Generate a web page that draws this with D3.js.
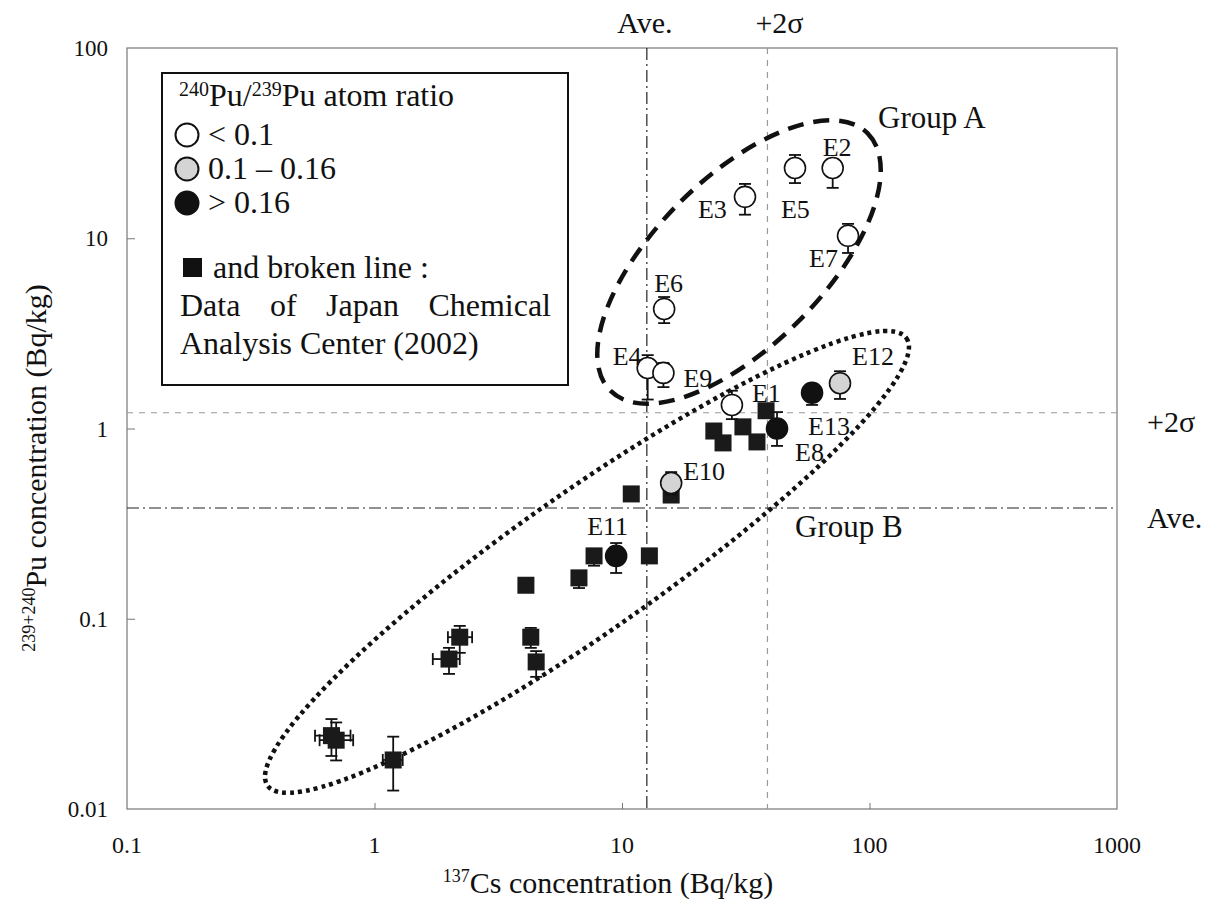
<!DOCTYPE html>
<html>
<head>
<meta charset="utf-8">
<script src="https://cdn.jsdelivr.net/npm/d3@7"></script>
<style>
  body { margin: 0; background: #fff; }
  svg, text { font-family: "Liberation Serif", "Times New Roman", serif; }
  text { fill: #111; }
</style>
</head>
<body>
<svg id="chart" width="1211" height="901"></svg>
<script>
// samples E1..E13 (circles, with Pu error bars)
const samples    = ['E1','E2','E3','E4','E5','E6','E7','E8','E9','E10','E11','E12','E13'];
const sampleCs   = [27.8, 71, 31.4, 12.7, 50, 14.8, 81.9, 42.3, 14.7, 15.8, 9.47, 76, 58.6];
const samplePu   = [1.33, 23.4, 16.5, 2.08, 23.4, 4.25, 10.3, 1.0, 1.96, 0.517, 0.214, 1.73, 1.54];
const samplePuLo = [1.12, 18.4, 13.3, 1.42, 19.5, 3.58, 8.37, 0.81, 1.65, 0.45, 0.174, 1.43, 1.33];
const samplePuHi = [1.58, 26.1, 19.3, 2.43, 27.4, 4.91, 11.9, 1.22, 2.21, 0.59, 0.25, 2.0, 1.69];
const sampleRatio = ['low','low','low','low','low','low','low','high','low','mid','high','mid','high'];

// Japan Chemical Analysis Center (2002) data (squares)
const jcacCs   = [23.5, 25.6, 30.8, 35.1, 38.2, 10.9, 15.8, 7.71, 12.9, 6.70, 4.09, 2.21, 2.0, 4.28, 4.50, 0.67, 0.70, 1.19];
const jcacPu   = [0.97, 0.84, 1.02, 0.85, 1.24, 0.453, 0.447, 0.214, 0.214, 0.164, 0.150, 0.080, 0.0614, 0.080, 0.0593, 0.0243, 0.0230, 0.0181];
const jcacCsLo = [null,null,null,null,null,null,null,null,null,null,null, 1.98, 1.72, null,null, 0.575, 0.60, 1.08];
const jcacCsHi = [null,null,null,null,null,null,null,null,null,null,null, 2.48, 2.21, null,null, 0.80, 0.82, 1.30];
const jcacPuLo = [null,null,null,null,null,null,null, 0.19, null, 0.145, null, 0.0662, 0.0513, 0.0703, 0.0495, 0.0190, 0.0180, 0.0125];
const jcacPuHi = [null,null,null,null,null,null,null, null, null, null, null, 0.0917, 0.0703, 0.0895, 0.0676, 0.0297, 0.0285, 0.0240];

// JCAC reference levels
const csAve = 12.6, csTwoSigma = 38.7;
const puAve = 0.382, puTwoSigma = 1.21;

const xTicks = [0.1, 1, 10, 100, 1000];
const yTicks = [0.01, 0.1, 1, 10, 100];

const ratioClasses = ['low', 'mid', 'high'];
const ratioLabels = ['< 0.1', '0.1 \u2013 0.16', '> 0.16'];
const ratioFill = d3.scaleOrdinal().domain(ratioClasses).range(['#fff', '#d4d4d4', '#111']);

// group ellipses: centre in data units
const groups = [
  { name: 'Group A', cs: 29.7, pu: 7.5, rx: 182, ry: 84, angle: -45, dash: '16 10', width: 4.5 },
  { name: 'Group B', cs: 7.22, pu: 0.199, rx: 390, ry: 70, angle: -35, dash: '4 4', width: 4.5 }
];

const labelOffset = {
  E1: [20, -3], E2: [-10, -12], E3: [-47, 21], E4: [-35, -3], E5: [-14, 50],
  E6: [-10, -17], E7: [-39, 31], E8: [18, 32], E9: [20, 14], E10: [12, -3],
  E11: [-29, -21], E12: [12, -18], E13: [-4, 42]
};

const margin = { left: 127, top: 48, right: 1117, bottom: 809 };

const svg = d3.select('#chart');

const x = d3.scaleLog().domain([0.1, 1000]).range([margin.left, margin.right]);
const y = d3.scaleLog().domain([0.01, 100]).range([margin.bottom, margin.top]);

// plot frame
svg.append('rect')
  .attr('x', margin.left).attr('y', margin.top)
  .attr('width', margin.right - margin.left)
  .attr('height', margin.bottom - margin.top)
  .attr('fill', 'none').attr('stroke', '#777').attr('stroke-width', 1.2);

// ticks (inward)
svg.append('g')
  .attr('transform', `translate(0, ${margin.bottom})`)
  .call(d3.axisBottom(x).tickValues(xTicks.slice(1, -1)).tickSize(-6).tickFormat(''))
  .call(g => g.select('.domain').remove())
  .call(g => g.selectAll('line').attr('stroke', '#777'));

svg.append('g')
  .attr('transform', `translate(${margin.left}, 0)`)
  .call(d3.axisLeft(y).tickValues(yTicks.slice(1, -1)).tickSize(-8).tickFormat(''))
  .call(g => g.select('.domain').remove())
  .call(g => g.selectAll('line').attr('stroke', '#777'));

// tick labels
svg.append('g').selectAll('text')
  .data(xTicks).join('text')
  .attr('x', d => x(d)).attr('y', 853)
  .attr('text-anchor', 'middle')
  .style('font-size', '24px')
  .text(d => d3.format('~g')(d));

svg.append('g').selectAll('text')
  .data(yTicks).join('text')
  .attr('x', 108).attr('y', d => y(d) + 8)
  .attr('text-anchor', 'end')
  .style('font-size', '23px')
  .text(d => d3.format('~g')(d));

// axis titles
const xTitle = svg.append('text')
  .attr('x', 608).attr('y', 893)
  .attr('text-anchor', 'middle')
  .style('font-size', '30px');
xTitle.append('tspan').attr('dy', -11).style('font-size', '18px').text('137');
xTitle.append('tspan').attr('dy', 11).text('Cs concentration (Bq/kg)');

const yTitle = svg.append('text')
  .attr('transform', 'translate(46, 468) rotate(-90)')
  .attr('text-anchor', 'middle')
  .style('font-size', '30px');
yTitle.append('tspan').attr('dy', -11).style('font-size', '18px').text('239+240');
yTitle.append('tspan').attr('dy', 11).text('Pu concentration (Bq/kg)');

// reference lines
const refStyle = {
  ave: { dash: '12 4 2 4', color: '#222', width: 1.2 },
  sigma: { dash: '6 6', color: '#999', width: 1.2 }
};

svg.append('line')
  .attr('x1', x(csAve)).attr('x2', x(csAve))
  .attr('y1', margin.top).attr('y2', margin.bottom)
  .attr('stroke', refStyle.ave.color).attr('stroke-width', refStyle.ave.width)
  .attr('stroke-dasharray', refStyle.ave.dash);
svg.append('line')
  .attr('x1', x(csTwoSigma)).attr('x2', x(csTwoSigma))
  .attr('y1', margin.top).attr('y2', margin.bottom)
  .attr('stroke', refStyle.sigma.color).attr('stroke-width', refStyle.sigma.width)
  .attr('stroke-dasharray', refStyle.sigma.dash);
svg.append('line')
  .attr('x1', margin.left).attr('x2', margin.right)
  .attr('y1', y(puAve)).attr('y2', y(puAve))
  .attr('stroke', refStyle.ave.color).attr('stroke-width', refStyle.ave.width)
  .attr('stroke-dasharray', refStyle.ave.dash);
svg.append('line')
  .attr('x1', margin.left).attr('x2', margin.right)
  .attr('y1', y(puTwoSigma)).attr('y2', y(puTwoSigma))
  .attr('stroke', refStyle.sigma.color).attr('stroke-width', refStyle.sigma.width)
  .attr('stroke-dasharray', refStyle.sigma.dash);

svg.append('text').attr('x', x(csAve) - 2).attr('y', 33).attr('text-anchor', 'middle')
  .style('font-size', '30px').text('Ave.');
svg.append('text').attr('x', x(csTwoSigma) + 12).attr('y', 33).attr('text-anchor', 'middle')
  .style('font-size', '30px').text('+2\u03c3');
svg.append('text').attr('x', 1147).attr('y', y(puTwoSigma) + 19)
  .style('font-size', '30px').text('+2\u03c3');
svg.append('text').attr('x', 1147).attr('y', y(puAve) + 20)
  .style('font-size', '30px').text('Ave.');

// group ellipses
svg.append('g').selectAll('ellipse')
  .data(groups).join('ellipse')
  .attr('transform', d => `translate(${x(d.cs)}, ${y(d.pu)}) rotate(${d.angle})`)
  .attr('rx', d => d.rx).attr('ry', d => d.ry)
  .attr('fill', 'none').attr('stroke', '#111')
  .attr('stroke-width', d => d.width)
  .attr('stroke-dasharray', d => d.dash);

svg.append('text').attr('x', 878).attr('y', 128).style('font-size', '31px').text('Group A');
svg.append('text').attr('x', 795).attr('y', 537).style('font-size', '31px').text('Group B');

// error bar helper
function vBar(g, cx, lo, hi, cap) {
  g.append('line').attr('x1', cx).attr('x2', cx).attr('y1', lo).attr('y2', hi);
  g.append('line').attr('x1', cx - cap).attr('x2', cx + cap).attr('y1', lo).attr('y2', lo);
  g.append('line').attr('x1', cx - cap).attr('x2', cx + cap).attr('y1', hi).attr('y2', hi);
}
function hBar(g, cy, lo, hi, cap) {
  g.append('line').attr('y1', cy).attr('y2', cy).attr('x1', lo).attr('x2', hi);
  g.append('line').attr('y1', cy - cap).attr('y2', cy + cap).attr('x1', lo).attr('x2', lo);
  g.append('line').attr('y1', cy - cap).attr('y2', cy + cap).attr('x1', hi).attr('x2', hi);
}

// JCAC squares
const errG = svg.append('g').attr('stroke', '#111').attr('stroke-width', 1.8);
jcacCs.forEach((cs, i) => {
  const px = x(cs), py = y(jcacPu[i]);
  if (jcacPuLo[i] !== null || jcacPuHi[i] !== null) {
    const lo = jcacPuLo[i] !== null ? y(jcacPuLo[i]) : py;
    const hi = jcacPuHi[i] !== null ? y(jcacPuHi[i]) : py;
    vBar(errG, px, lo, hi, 6);
  }
  if (jcacCsLo[i] !== null) hBar(errG, py, x(jcacCsLo[i]), x(jcacCsHi[i]), 6);
});

const sq = 17;
svg.append('g').selectAll('rect')
  .data(jcacCs).join('rect')
  .attr('x', (d, i) => x(d) - sq / 2)
  .attr('y', (d, i) => y(jcacPu[i]) - sq / 2)
  .attr('width', sq).attr('height', sq)
  .attr('fill', '#1a1a1a');

// sample circles
const sErr = svg.append('g').attr('stroke', '#111').attr('stroke-width', 1.8);
sampleCs.forEach((cs, i) => vBar(sErr, x(cs), y(samplePuLo[i]), y(samplePuHi[i]), 6));

svg.append('g').selectAll('circle')
  .data(samples).join('circle')
  .attr('cx', (d, i) => x(sampleCs[i]))
  .attr('cy', (d, i) => y(samplePu[i]))
  .attr('r', 10.5)
  .attr('fill', (d, i) => ratioFill(sampleRatio[i]))
  .attr('stroke', '#111').attr('stroke-width', 1.6);

svg.append('g').selectAll('text')
  .data(samples).join('text')
  .attr('x', (d, i) => x(sampleCs[i]) + labelOffset[d][0])
  .attr('y', (d, i) => y(samplePu[i]) + labelOffset[d][1])
  .style('font-size', '26px')
  .text(d => d);

// legend
const legend = svg.append('g');
legend.append('rect')
  .attr('x', 162).attr('y', 73).attr('width', 406).attr('height', 312)
  .attr('fill', '#fff').attr('stroke', '#111').attr('stroke-width', 2);

const lt = legend.append('text').attr('x', 179).attr('y', 106).style('font-size', '32px');
lt.append('tspan').attr('dy', -10).style('font-size', '20px').text('240');
lt.append('tspan').attr('dy', 10).text('Pu/');
lt.append('tspan').attr('dy', -10).style('font-size', '20px').text('239');
lt.append('tspan').attr('dy', 10).text('Pu atom ratio');

ratioClasses.forEach((c, i) => {
  const cy = 135 + i * 34;
  legend.append('circle').attr('cx', 187).attr('cy', cy).attr('r', 11.5)
    .attr('fill', ratioFill(c)).attr('stroke', '#111').attr('stroke-width', 2);
  legend.append('text').attr('x', 208).attr('y', cy + 10).style('font-size', '32px').text(ratioLabels[i]);
});

legend.append('rect').attr('x', 183).attr('y', 258).attr('width', 19).attr('height', 19).attr('fill', '#111');
legend.append('text').attr('x', 213).attr('y', 278).style('font-size', '32px').text('and broken line :');

// justified line
const just = legend.append('text').attr('x', 180).attr('y', 316).style('font-size', '32px')
  .text('Data of Japan Chemical');
const natural = just.node().getComputedTextLength();
just.style('word-spacing', `${(371 - natural) / 3}px`);

legend.append('text').attr('x', 180).attr('y', 354).style('font-size', '32px').text('Analysis Center (2002)');
</script>
</body>
</html>
